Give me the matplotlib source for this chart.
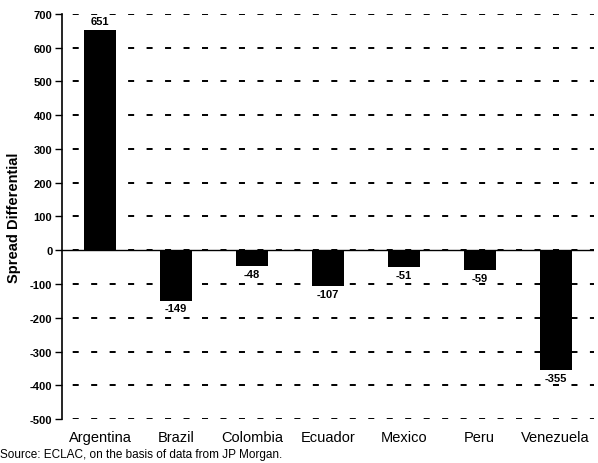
import matplotlib
matplotlib.use("Agg")
import matplotlib.pyplot as plt
import numpy as np

countries = ["Argentina", "Brazil", "Colombia", "Ecuador", "Mexico", "Peru", "Venezuela"]
spread = [651, -149, -48, -107, -51, -59, -355]
yticks = list(range(-500, 701, 100))

plt.rcParams["font.family"] = ["Liberation Sans", "DejaVu Sans"]

fig = plt.figure(figsize=(5.98, 4.64), dpi=100)
ax = fig.add_axes([0.1037, 0.0948, 0.889, 0.873])

x = np.arange(len(countries))
ax.bar(x, spread, width=0.42, color="black", zorder=3)

ax.set_xlim(-0.5, len(countries) - 0.5)
ax.set_ylim(-500, 700)
ax.set_yticks(yticks)
ax.set_yticklabels([str(v) for v in yticks], fontsize=8, fontweight="bold")
ax.tick_params(axis="y", direction="out", length=5, width=1, pad=2)

ax.set_xticks(x)
ax.set_xticklabels(countries, fontsize=10.5)
ax.tick_params(axis="x", length=0, pad=8)

ax.yaxis.grid(True, linestyle=(4, (3.1, 6.4)), color="black", linewidth=1.4, zorder=0)
ax.axhline(0, color="black", linewidth=1, zorder=4)

for s in ["top", "right", "bottom"]:
    ax.spines[s].set_visible(False)
ax.spines["left"].set_linewidth(1.2)

for xi, v in zip(x, spread):
    if v >= 0:
        ax.text(xi, v + 12, str(v), ha="center", va="bottom", fontsize=8, fontweight="bold", zorder=5)
    else:
        ax.text(xi, v - 8, str(v), ha="center", va="top", fontsize=8, fontweight="bold", zorder=5)

ax.set_ylabel("Spread Differential", fontsize=10.5, fontweight="bold", labelpad=6)

fig.text(0.0, 0.012, "Source: ECLAC, on the basis of data from JP Morgan.", fontsize=8.5)

fig.savefig("out.png", dpi=100)
